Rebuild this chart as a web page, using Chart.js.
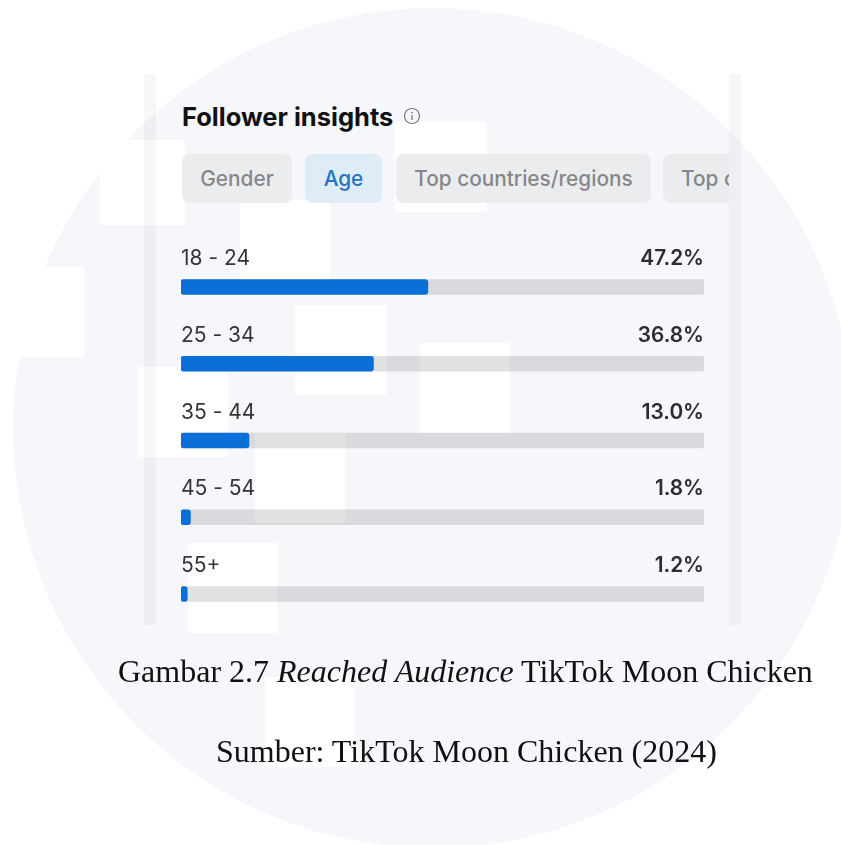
<!DOCTYPE html>
<html>
<head>
<meta charset="utf-8">
<title>Follower insights</title>
<script src="https://cdn.jsdelivr.net/npm/chart.js@4"></script>
<style>
    html, body { margin: 0; padding: 0; background: #fff; }
    #page { position: relative; width: 841px; height: 845px; overflow: hidden; }
    #page > * { position: absolute; }

    /* backdrop: big pale disc with white squares on top */
    #disc { left: 13px; top: 8px; width: 840px; height: 840px; border-radius: 50%; background: #f6f7fb; }
    .square { background: #fff; }

    /* faint side rails of the panel */
    .rail { top: 74px; width: 12px; height: 551px; background: rgba(60, 60, 60, 0.04); }

    #heading { left: 182px; top: 101px; font: 700 25.5px Inter, sans-serif; color: #111; white-space: nowrap; }
    #info { left: 403px; top: 107px; }

    .chip { top: 154px; height: 49px; border-radius: 8px; background: #ebecee; color: #85878a; font: 500 20.8px/49px Inter, sans-serif; text-align: center; white-space: nowrap; overflow: hidden; }
    .chip.active { background: #deecf8; color: #2472c0; }
    #chipClip { border-radius: 8px 0 0 8px; text-align: left; padding-left: 18px; box-sizing: border-box; }

    #chart-wrap { left: 0; top: 0; width: 841px; height: 845px; }

    .caption { font-family: "Liberation Serif", serif; font-size: 32px; line-height: 36px; color: #111; white-space: nowrap; }
</style>
</head>
<body>
<div id="page">
    <div id="disc"></div>
    <div class="square" style="left:100px;top:140px;width:85px;height:85px"></div>
    <div class="square" style="left:240px;top:200px;width:90px;height:90px"></div>
    <div class="square" style="left:395px;top:122px;width:92px;height:90px"></div>
    <div class="square" style="left:0;top:267px;width:84px;height:90px"></div>
    <div class="square" style="left:295px;top:305px;width:91px;height:90px"></div>
    <div class="square" style="left:420px;top:343px;width:90px;height:90px"></div>
    <div class="square" style="left:138px;top:367px;width:90px;height:90px"></div>
    <div class="square" style="left:255px;top:433px;width:90px;height:90px"></div>
    <div class="square" style="left:188px;top:543px;width:90px;height:90px"></div>
    <div class="square" style="left:265px;top:677px;width:90px;height:90px"></div>

    <div class="rail" style="left:144px"></div>
    <div class="rail" style="left:729px"></div>

    <div id="heading">Follower insights</div>
    <svg id="info" width="18" height="18" viewBox="0 0 18 18">
        <circle cx="9" cy="9" r="7.5" fill="none" stroke="#77797c" stroke-width="1.2"/>
        <circle cx="9" cy="5.6" r="0.9" fill="#77797c"/>
        <line x1="9" y1="8" x2="9" y2="13" stroke="#77797c" stroke-width="1.3"/>
    </svg>

    <div class="chip" style="left:182px;width:110px">Gender</div>
    <div class="chip active" style="left:305px;width:77px">Age</div>
    <div class="chip" style="left:396px;width:255px">Top countries/regions</div>
    <div class="chip" id="chipClip" style="left:663px;width:66px">Top cities</div>

    <div id="chart-wrap"><canvas id="ageChart" width="841" height="845"></canvas></div>

    <div class="caption" style="left:118px;top:653px">Gambar 2.7 <i>Reached Audience</i> TikTok Moon Chicken</div>
    <div class="caption" style="left:216px;top:733px">Sumber: TikTok Moon Chicken (2024)</div>
</div>

<script>
/* chart data */
const ageGroups = ['18 - 24', '25 - 34', '35 - 44', '45 - 54', '55+'];
const agePercent = [47.2, 36.8, 13.0, 1.8, 1.2];
const trackValues = [100, 100, 100, 100, 100];

/* writes the age group and its percentage above each bar */
const rowLabels = {
    id: 'rowLabels',
    afterDatasetsDraw(chart) {
        const ctx = chart.ctx;
        const x = chart.scales.x;
        const y = chart.scales.y;
        ctx.save();
        ctx.textBaseline = 'alphabetic';
        ageGroups.forEach((group, i) => {
            const base = y.getPixelForValue(i) - 22;
            ctx.fillStyle = '#333538';
            ctx.font = '400 21px Inter, sans-serif';
            ctx.textAlign = 'left';
            ctx.fillText(group, x.getPixelForValue(0), base);
            ctx.fillStyle = '#2b2d30';
            ctx.font = '600 20.8px Inter, sans-serif';
            ctx.textAlign = 'right';
            ctx.fillText(agePercent[i].toFixed(1) + '%', x.getPixelForValue(100), base);
        });
        ctx.restore();
    }
};

const ageChart = new Chart(document.getElementById('ageChart').getContext('2d'), {
    type: 'bar',
    data: {
        labels: ageGroups,
        datasets: [
            {
                data: agePercent,
                backgroundColor: '#0b6fd8',
                barThickness: 15,
                borderRadius: 3,
                borderSkipped: false,
                grouped: false,
                order: 1
            },
            {
                data: trackValues,
                backgroundColor: 'rgba(40, 40, 40, 0.14)',
                barThickness: 15,
                borderRadius: 2,
                borderSkipped: false,
                grouped: false,
                order: 2
            }
        ]
    },
    options: {
        indexAxis: 'y',
        responsive: false,
        animation: false,
        layout: {
            padding: { left: 181, right: 137, top: 248.6, bottom: 212.6 }
        },
        plugins: {
            legend: { display: false },
            title: { display: false },
            tooltip: { enabled: false }
        },
        scales: {
            x: { display: false, min: 0, max: 100 },
            y: { display: false }
        }
    },
    plugins: [rowLabels]
});
</script>
</body>
</html>
